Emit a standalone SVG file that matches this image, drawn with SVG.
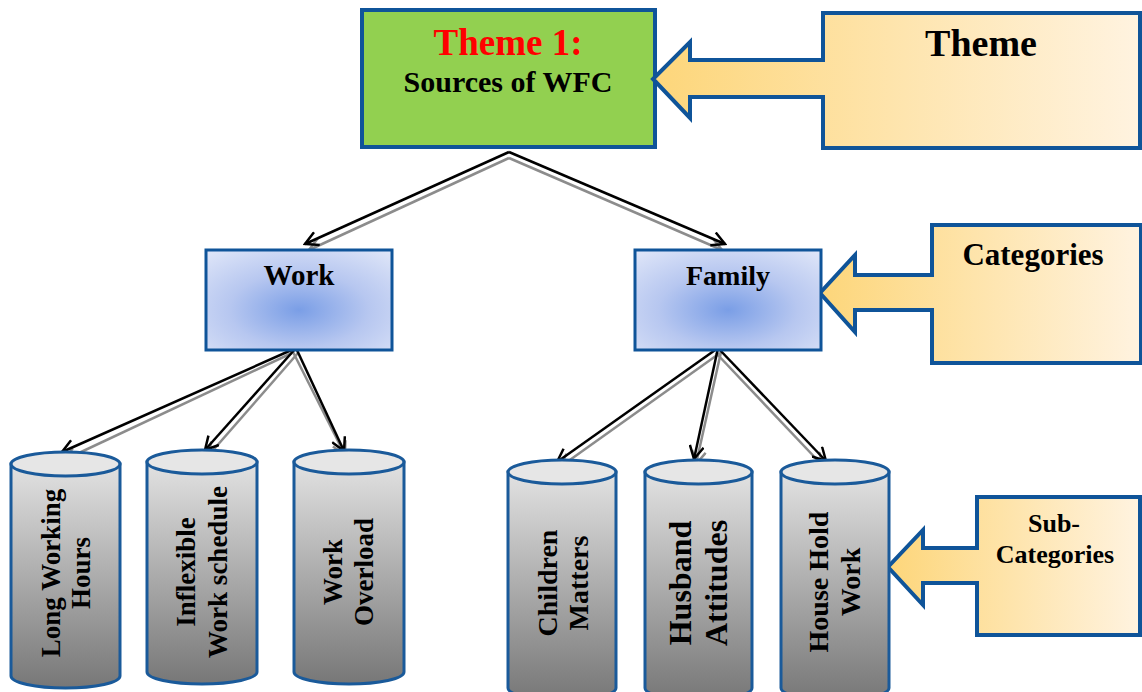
<svg xmlns="http://www.w3.org/2000/svg" width="1142" height="692" viewBox="0 0 1142 692">
<style>
.t{font-family:"Liberation Serif","Times New Roman",serif;font-weight:bold;text-anchor:middle;fill:#000}
.cyl{stroke:#1A5A9A;stroke-width:3;fill:url(#gCyl)}
.cap{stroke:#1A5A9A;stroke-width:3;fill:#E6E6E6}
.cat{stroke:#0F5499;stroke-width:3;fill:url(#gBlue)}
.call{stroke:#0F5499;stroke-width:4;fill:url(#gYel)}
.lb{stroke:#000;stroke-width:2.5;fill:none;marker-end:url(#mB)}
.lg{stroke:#8C8C8C;stroke-width:2.5;fill:none;marker-end:url(#mG)}
</style>
<defs>
<linearGradient id="gCyl" x1="0" y1="0" x2="0" y2="1">
<stop offset="0" stop-color="#E2E2E2"/><stop offset="1" stop-color="#777777"/>
</linearGradient>
<radialGradient id="gBlue" cx="0.5" cy="0.6" r="0.75">
<stop offset="0" stop-color="#7A9EE6"/><stop offset="0.5" stop-color="#B7C7F0"/><stop offset="1" stop-color="#DEE5F8"/>
</radialGradient>
<linearGradient id="gYel" x1="0" y1="0" x2="1" y2="0">
<stop offset="0" stop-color="#FDD67A"/><stop offset="1" stop-color="#FFF3E0"/>
</linearGradient>
<marker id="mB" viewBox="0 0 16 16" refX="14" refY="8" markerWidth="16" markerHeight="16" markerUnits="userSpaceOnUse" orient="auto">
<path d="M1,1 L14,8 L1,15" fill="none" stroke="#000" stroke-width="2.5"/>
</marker>
<marker id="mG" viewBox="0 0 16 16" refX="14" refY="8" markerWidth="16" markerHeight="16" markerUnits="userSpaceOnUse" orient="auto">
<path d="M1,1 L14,8 L1,15" fill="none" stroke="#8C8C8C" stroke-width="2.5"/>
</marker>
</defs>

<g id="connectors">
<path class="lg" d="M509,158 L309,250"/>
<path class="lg" d="M509,158 L722,250"/>
<path class="lg" d="M292,353 L64,460"/>
<path class="lg" d="M298,353 L208,456"/>
<path class="lg" d="M293,352 L345,455"/>
<path class="lg" d="M720,353 L560,467"/>
<path class="lg" d="M721,352 L696,464"/>
<path class="lg" d="M716,353 L823,466"/>
<path class="lb" d="M509,152 L305,244"/>
<path class="lb" d="M509,152 L725,244"/>
<path class="lb" d="M296,348 L62,452"/>
<path class="lb" d="M296,348 L205,450"/>
<path class="lb" d="M296,348 L344,451"/>
<path class="lb" d="M718,348 L557,462"/>
<path class="lb" d="M718,348 L694,459"/>
<path class="lb" d="M718,348 L826,461"/>
</g>

<g id="theme1">
<rect x="362" y="10" width="293" height="137" fill="#92D050" stroke="#0F5499" stroke-width="4"/>
<text class="t" x="508" y="55" font-size="37" style="fill:#FF0000">Theme 1:</text>
<text class="t" x="508" y="92" font-size="30">Sources of WFC</text>
</g>

<g id="theme-callout">
<path class="call" d="M823,13 H1140 V148 H823 V97 H690 V118 L653,79 L690,42 V60 H823 Z"/>
<text class="t" x="981" y="56" font-size="38">Theme</text>
</g>

<g id="categories-callout">
<path class="call" d="M932,225 H1141 V363 H932 V310 H855 V332 L820,293 L855,255 V275 H932 Z"/>
<text class="t" x="1033" y="265" font-size="31">Categories</text>
</g>

<g id="subcategories-callout">
<path class="call" d="M977,497 H1140 V635 H977 V583 H923 V605 L888,567 L923,530 V548 H977 Z"/>
<text class="t" x="1054" y="532" font-size="26">Sub-</text>
<text class="t" x="1055" y="563" font-size="26">Categories</text>
</g>

<g id="work">
<rect class="cat" x="206" y="250" width="186" height="100"/>
<text class="t" x="299" y="285" font-size="29">Work</text>
</g>

<g id="family">
<rect class="cat" x="635" y="250" width="186" height="100"/>
<text class="t" x="728" y="285" font-size="28">Family</text>
</g>

<g id="long-working-hours">
<path class="cyl" d="M11,464 V676 A54.5,12 0 0 0 120,676 V464 Z"/>
<ellipse class="cap" cx="65.5" cy="464" rx="54.5" ry="12"/>
<text class="t" font-size="27" transform="translate(60,573) rotate(-90)">Long Working</text>
<text class="t" font-size="27" transform="translate(90,573) rotate(-90)">Hours</text>
</g>

<g id="inflexible-work-schedule">
<path class="cyl" d="M147,462 V672 A55,12 0 0 0 257,672 V462 Z"/>
<ellipse class="cap" cx="202" cy="462" rx="55" ry="12"/>
<text class="t" font-size="27" transform="translate(195,572) rotate(-90)">Inflexible</text>
<text class="t" font-size="27" transform="translate(227,572) rotate(-90)">Work schedule</text>
</g>

<g id="work-overload">
<path class="cyl" d="M294,462 V672 A55,12 0 0 0 404,672 V462 Z"/>
<ellipse class="cap" cx="349" cy="462" rx="55" ry="12"/>
<text class="t" font-size="27" transform="translate(342,572) rotate(-90)">Work</text>
<text class="t" font-size="27" transform="translate(373,572) rotate(-90)">Overload</text>
</g>

<g id="children-matters">
<path class="cyl" d="M508,472 V688 A54,12 0 0 0 616,688 V472 Z"/>
<ellipse class="cap" cx="562" cy="472" rx="54" ry="12"/>
<text class="t" font-size="28" transform="translate(557,583) rotate(-90)">Children</text>
<text class="t" font-size="28" transform="translate(588,583) rotate(-90)">Matters</text>
</g>

<g id="husband-attitudes">
<path class="cyl" d="M645,472 V688 A53.5,12 0 0 0 752,688 V472 Z"/>
<ellipse class="cap" cx="698.5" cy="472" rx="53.5" ry="12"/>
<text class="t" font-size="32" transform="translate(691,583) rotate(-90)">Husband</text>
<text class="t" font-size="32" transform="translate(727,583) rotate(-90)">Attitudes</text>
</g>

<g id="house-hold-work">
<path class="cyl" d="M781,472 V688 A54,12 0 0 0 889,688 V472 Z"/>
<ellipse class="cap" cx="835" cy="472" rx="54" ry="12"/>
<text class="t" font-size="28" transform="translate(828,582) rotate(-90)">House Hold</text>
<text class="t" font-size="28" transform="translate(860,582) rotate(-90)">Work</text>
</g>
</svg>
